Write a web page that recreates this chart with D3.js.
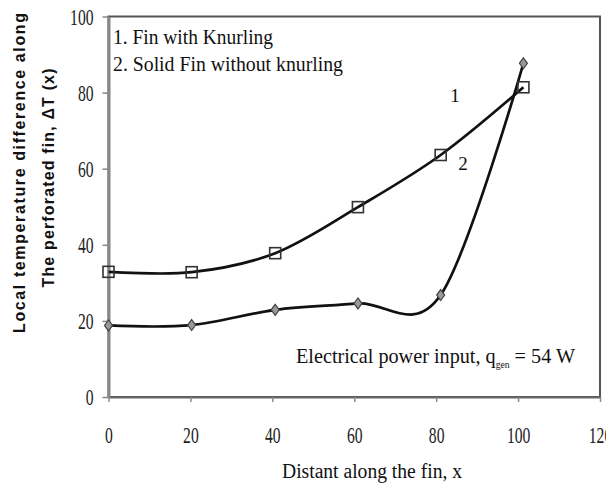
<!DOCTYPE html>
<html>
<head>
<meta charset="utf-8">
<script src="https://cdn.jsdelivr.net/npm/d3@7"></script>
<style>
  html, body { margin: 0; padding: 0; background: #fff; }
  svg { display: block; }
</style>
</head>
<body>
<svg id="chart" width="606" height="490"></svg>
<script>
// ---- data ----
const xValues = [0, 20.3, 40.7, 60.9, 81.1, 101.3];
const knurlingValues = [32.9, 32.8, 37.8, 49.9, 63.6, 81.4];   // series 1 (squares)
const solidValues = [18.8, 18.9, 22.9, 24.6, 26.8, 87.7];      // series 2 (diamonds)
const xTicks = [0, 20, 40, 60, 80, 100, 120];
const yTicks = [0, 20, 40, 60, 80, 100];
const legendLabels = ["1. Fin with Knurling", "2. Solid Fin without knurling"];
const seriesTags = ["1", "2"];

const svg = d3.select("#chart");
const x = d3.scaleLinear().domain([0, 120]).range([108.5, 600]);
const y = d3.scaleLinear().domain([0, 100]).range([397, 16.5]);
const serif = "'Liberation Serif', 'DejaVu Serif', serif";
const sans = "'Liberation Sans', Arial, sans-serif";

// frame
svg.append("rect")
  .attr("x", x(0)).attr("y", y(100))
  .attr("width", x(120) - x(0)).attr("height", y(0) - y(100))
  .attr("fill", "none").attr("stroke", "#555").attr("stroke-width", 2);

// x axis
const gx = svg.append("g").attr("transform", `translate(0,${y(0)})`)
  .call(d3.axisBottom(x).tickValues(xTicks).tickSize(5).tickSizeOuter(0).tickFormat(d3.format("d")));
gx.select(".domain").attr("stroke", "#666").attr("stroke-width", 2);
gx.selectAll(".tick line").attr("stroke", "#888").attr("stroke-width", 1.5);
gx.selectAll(".tick text")
  .attr("y", 46).attr("dy", 0)
  .attr("font-family", serif).attr("font-size", 23).attr("fill", "#222")
  .attr("textLength", d => String(d).length * 7.8)
  .attr("lengthAdjust", "spacingAndGlyphs");

// y axis
const gy = svg.append("g").attr("transform", `translate(${x(0)},0)`)
  .call(d3.axisLeft(y).tickValues(yTicks).tickSize(6).tickSizeOuter(0).tickFormat(d3.format("d")));
gy.select(".domain").attr("stroke", "#888").attr("stroke-width", 3);
gy.selectAll(".tick line").attr("stroke", "#888").attr("stroke-width", 1.5);
gy.selectAll(".tick text")
  .attr("x", -15).attr("dy", "0.34em")
  .attr("font-family", serif).attr("font-size", 23).attr("fill", "#222")
  .attr("textLength", d => String(d).length * 7.8)
  .attr("lengthAdjust", "spacingAndGlyphs");

// curves
const line = d3.line().curve(d3.curveCardinal.tension(0))
  .x(d => x(d[0])).y(d => y(d[1]));
const s1 = xValues.map((v, i) => [v, knurlingValues[i]]);
const s2 = xValues.map((v, i) => [v, solidValues[i]]);

svg.append("path").attr("d", line(s2)).attr("fill", "none")
  .attr("stroke", "#111").attr("stroke-width", 2.7);
svg.append("path").attr("d", line(s1)).attr("fill", "none")
  .attr("stroke", "#111").attr("stroke-width", 2.7);

// markers
svg.selectAll("rect.sq").data(s1).join("rect").attr("class", "sq")
  .attr("x", d => x(d[0]) - 5.5).attr("y", d => y(d[1]) - 5.5)
  .attr("width", 11).attr("height", 11)
  .attr("fill", "none").attr("stroke", "#333").attr("stroke-width", 1.6);
svg.selectAll("path.dm").data(s2).join("path").attr("class", "dm")
  .attr("d", d => {
    const cx = x(d[0]), cy = y(d[1]);
    return `M${cx},${cy - 5.5}L${cx + 4},${cy}L${cx},${cy + 5.5}L${cx - 4},${cy}Z`;
  })
  .attr("fill", "#999").attr("stroke", "#444").attr("stroke-width", 1.2);

// legend text
svg.append("text").attr("x", 113).attr("y", 44)
  .attr("font-family", serif).attr("font-size", 20).attr("fill", "#111")
  .attr("textLength", 160).attr("lengthAdjust", "spacingAndGlyphs")
  .text(legendLabels[0]);
svg.append("text").attr("x", 113).attr("y", 71)
  .attr("font-family", serif).attr("font-size", 20).attr("fill", "#111")
  .attr("textLength", 230).attr("lengthAdjust", "spacingAndGlyphs")
  .text(legendLabels[1]);

// series tags
svg.append("text").attr("x", 455).attr("y", 102).attr("text-anchor", "middle")
  .attr("font-family", serif).attr("font-size", 19).attr("fill", "#111").text(seriesTags[0]);
svg.append("text").attr("x", 463).attr("y", 170).attr("text-anchor", "middle")
  .attr("font-family", serif).attr("font-size", 19).attr("fill", "#111").text(seriesTags[1]);

// annotation
const ann = svg.append("text").attr("x", 296).attr("y", 363)
  .attr("font-family", serif).attr("font-size", 21).attr("fill", "#111");
ann.append("tspan").text("Electrical power input, q");
ann.append("tspan").attr("dy", 5).attr("font-size", 10).text("gen");
ann.append("tspan").attr("dy", -5).text(" = 54 W");
ann.attr("textLength", 279).attr("lengthAdjust", "spacingAndGlyphs");

// x title
svg.append("text").attr("x", 282).attr("y", 478)
  .attr("font-family", serif).attr("font-size", 20).attr("fill", "#111")
  .attr("textLength", 180).attr("lengthAdjust", "spacingAndGlyphs")
  .text("Distant along the fin, x");

// y titles
svg.append("text").attr("transform", "translate(25,173) rotate(-90)")
  .attr("text-anchor", "middle")
  .attr("font-family", sans).attr("font-size", 16).attr("font-weight", "bold").attr("fill", "#111")
  .attr("textLength", 320).attr("lengthAdjust", "spacing")
  .text("Local temperature difference along");
svg.append("text").attr("transform", "translate(54,178) rotate(-90)")
  .attr("text-anchor", "middle")
  .attr("font-family", sans).attr("font-size", 16).attr("font-weight", "bold").attr("fill", "#111")
  .attr("textLength", 219).attr("lengthAdjust", "spacing")
  .text("The perforated fin, ΔT (x)");
</script>
</body>
</html>
